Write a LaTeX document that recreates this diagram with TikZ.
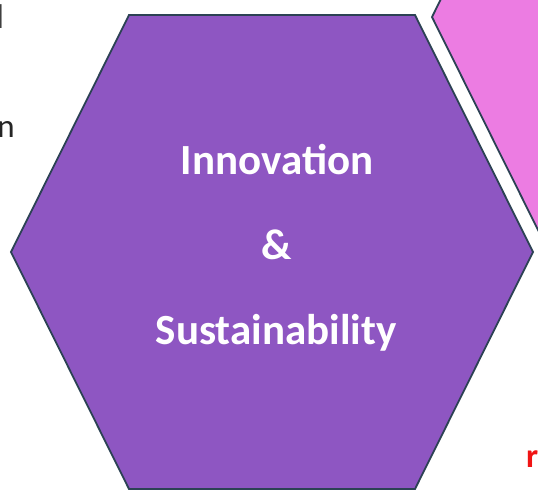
\documentclass[tikz,border=0pt]{standalone}
\usepackage{fontspec}
\setmainfont{Carlito}
\definecolor{hexpurple}{RGB}{142,86,194}
\definecolor{hexpink}{RGB}{236,124,226}
\definecolor{hexline}{RGB}{44,66,84}
\definecolor{fragred}{RGB}{240,20,20}
\begin{document}
\begin{tikzpicture}[x=1pt,y=-1pt,
  hexa/.style={draw=hexline,line width=1.8pt,line join=miter},
  bigtext/.style={text=white,font=\fontsize{43}{48}\selectfont\bfseries,inner sep=0pt,anchor=base},
  frag/.style={inner sep=0pt}]
\useasboundingbox (0,0) rectangle (538,491);
\clip (0,0) rectangle (538,491);
% pink hexagon (partial)
\path[hexa,fill=hexpink] (432,17) -- (550,254) -- (800,254) -- (800,-220) -- (550,-220) -- cycle;
% purple hexagon
\path[hexa,fill=hexpurple] (129,15) -- (415,15) -- (533,252) -- (415,489) -- (129,489) -- (11,252) -- cycle;
\node[bigtext] (t1) at (277,174) {Innovation};
\node[bigtext] (t2) at (277,259) {\&};
\node[bigtext] (t3) at (276,344) {Sustainability};
% fragments of neighbouring text
\node[frag,anchor=base east,text=black!75,font=\fontsize{34}{40}\selectfont\bfseries] (fl) at (4,28) {l};
\node[frag,anchor=base east,text=black!85,font=\fontsize{33}{40}\selectfont] (fn) at (15,137) {n};
\node[frag,anchor=base west,text=fragred,font=\fontsize{34}{40}\selectfont\bfseries] (fr) at (526,467) {r};
\end{tikzpicture}
\end{document}
